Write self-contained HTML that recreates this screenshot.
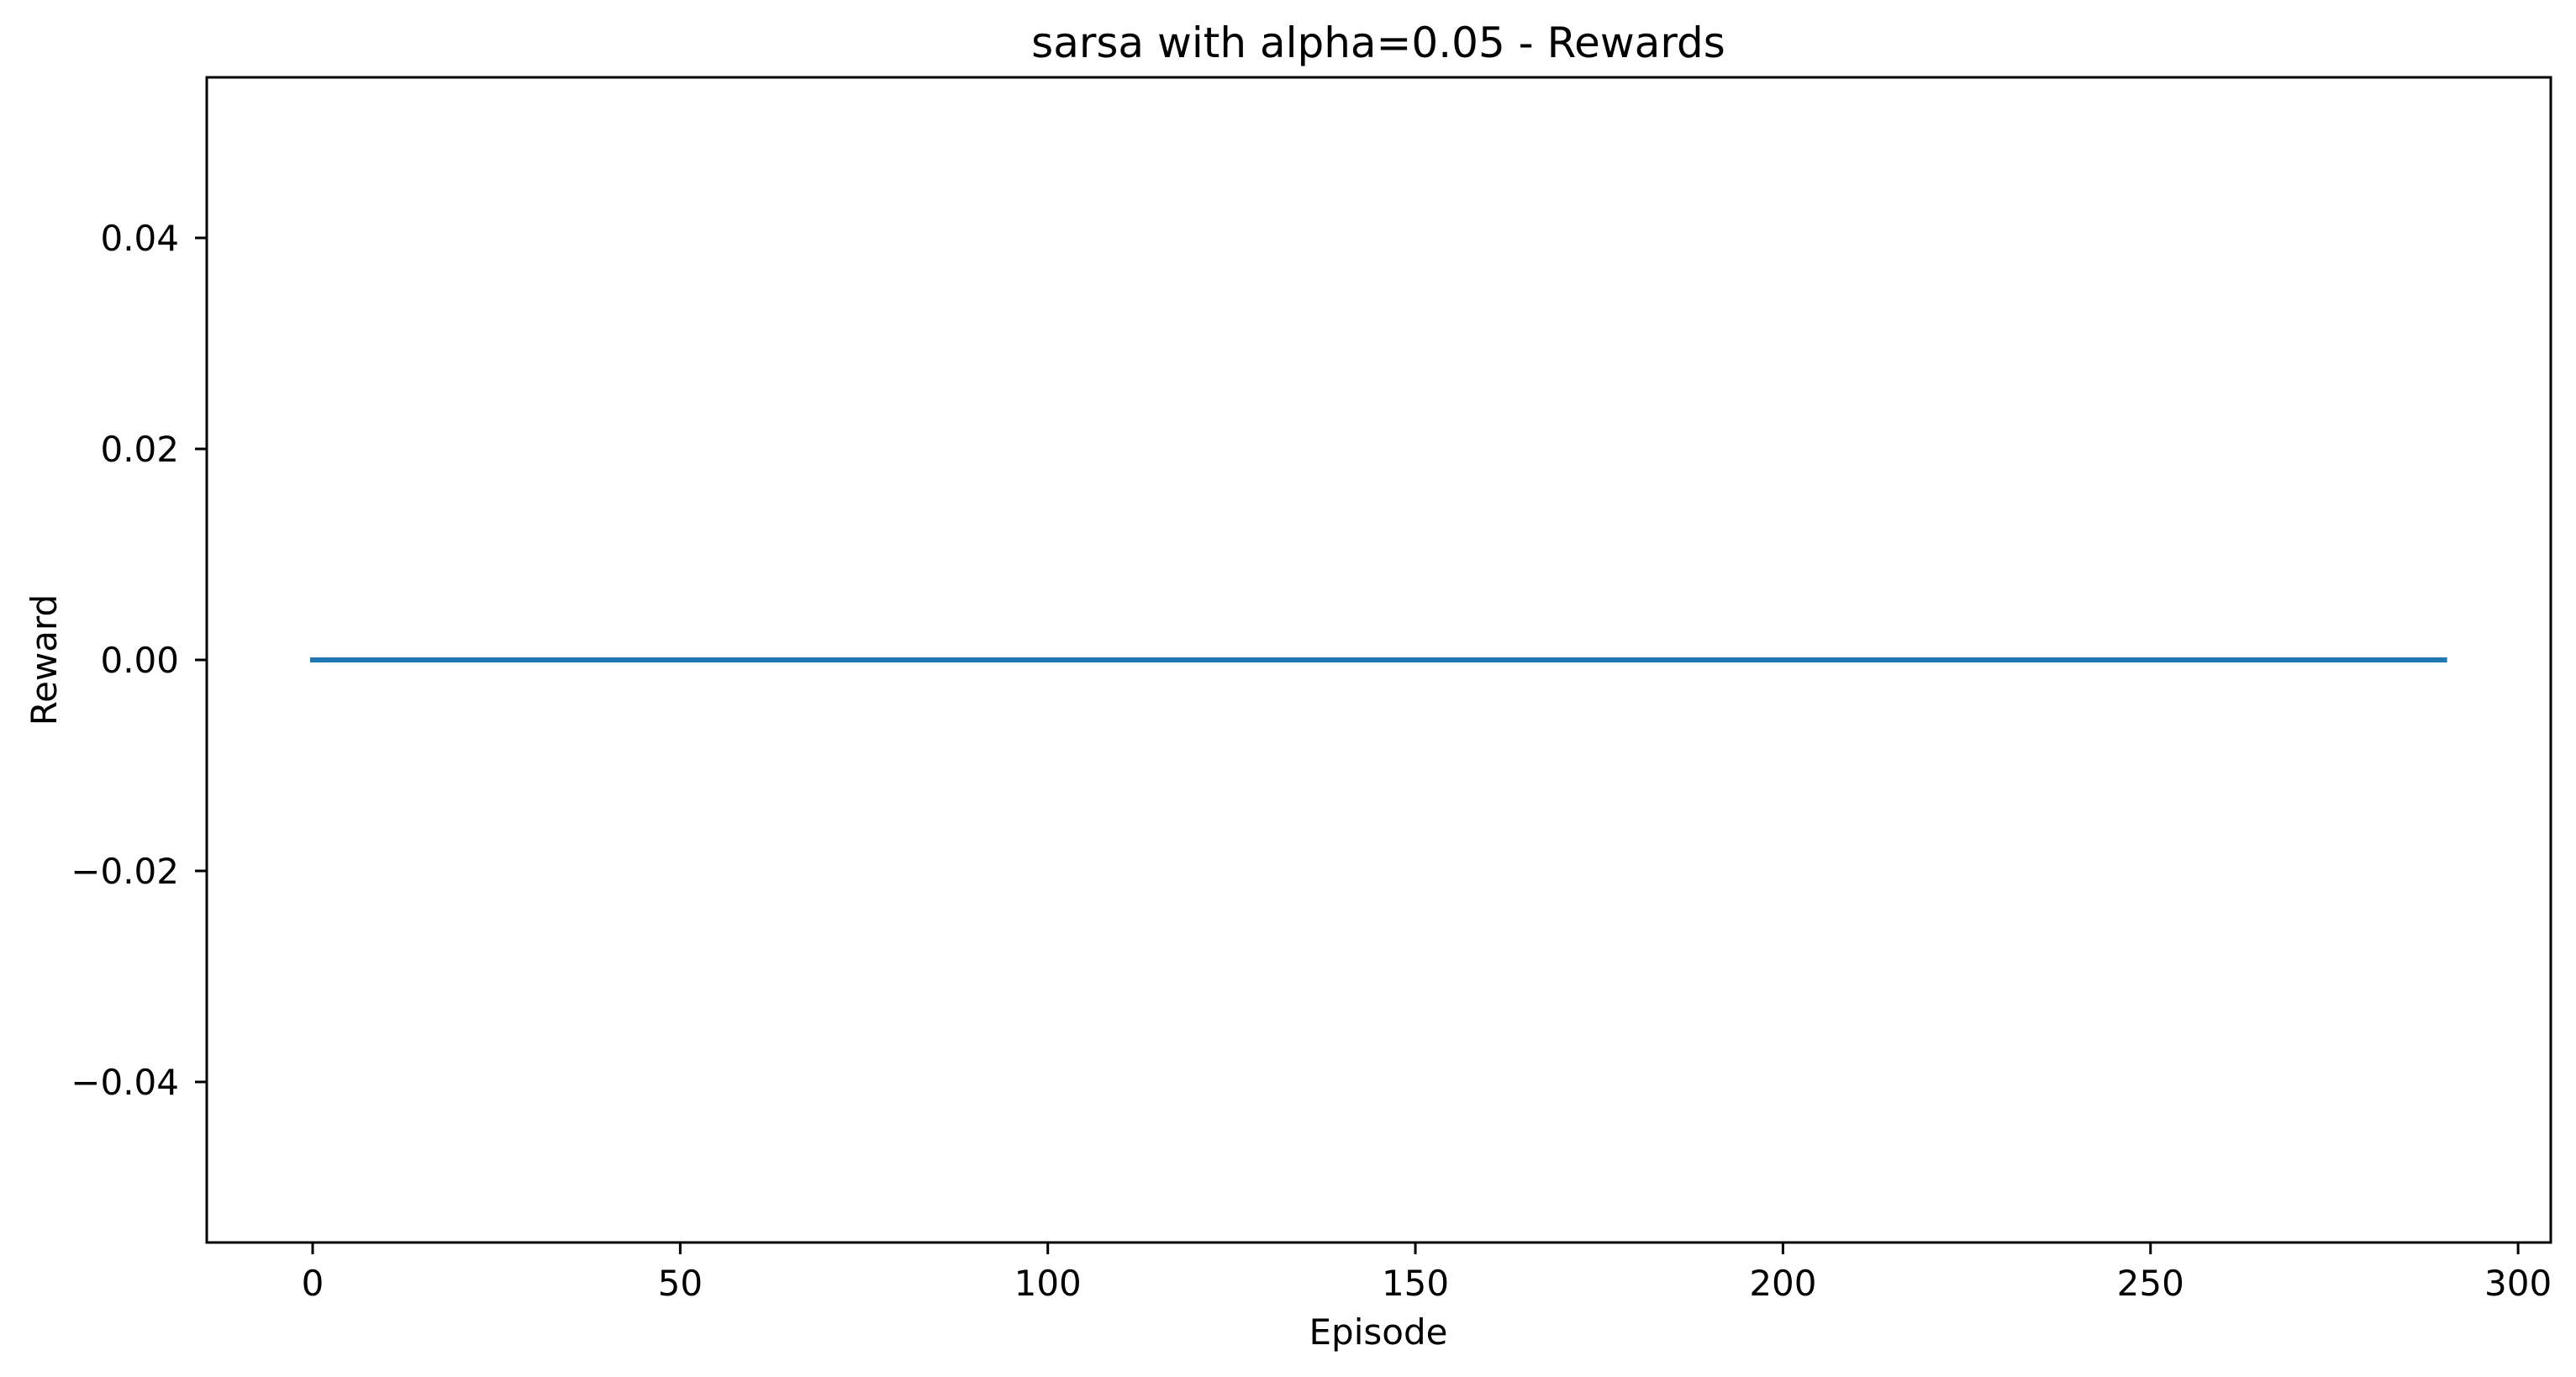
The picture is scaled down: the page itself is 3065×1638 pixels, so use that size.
<!DOCTYPE html>
<html><head><meta charset="utf-8"><style>
html,body{margin:0;padding:0;background:#fff;}
svg{display:block;font-family:"DejaVu Sans","Liberation Sans",sans-serif;}
</style></head><body>
<svg id="chart" width="3065" height="1638" viewBox="0 0 3065 1638" xmlns="http://www.w3.org/2000/svg">
<rect width="3065" height="1638" fill="#fff"/>
<text x="1640" y="68" font-size="50" text-anchor="middle">sarsa with alpha=0.05 - Rewards</text>
<g id="xticks"></g><g id="yticks"></g>
<path id="series" fill="none" stroke="#1f77b4" stroke-width="6" stroke-linecap="square"/>
<rect x="246" y="92" width="2789" height="1386" fill="none" stroke="#000" stroke-width="3"/>
<text x="1640" y="1599" font-size="42" text-anchor="middle">Episode</text>
<text x="0" y="0" font-size="42" text-anchor="middle" transform="translate(67,785) rotate(-90)">Reward</text>
</svg>
<script>
const episodes = Array.from({length: 291}, (_, i) => i);
const rewards = new Array(291).fill(0);
const xTickValues = [0, 50, 100, 150, 200, 250, 300];
const xTickLabels = ["0", "50", "100", "150", "200", "250", "300"];
const yTickValues = [0.04, 0.02, 0, -0.02, -0.04];
const yTickLabels = ["0.04", "0.02", "0.00", "\u22120.02", "\u22120.04"];

const NS = "http://www.w3.org/2000/svg";
const L = 246, R = 3035, T = 92, B = 1478;
const xPx = 8.747;
function xs(v){ return 372 + v * xPx; }
function ys(v){ return 785 - v * 12550; }

const xg = document.getElementById('xticks');
xTickValues.forEach((v, i) => {
  const x = xs(v);
  const l = document.createElementNS(NS, 'line');
  l.setAttribute('x1', x); l.setAttribute('x2', x); l.setAttribute('y1', B); l.setAttribute('y2', B + 14);
  l.setAttribute('stroke', '#000'); l.setAttribute('stroke-width', '3');
  
  
  xg.appendChild(l);
  const t = document.createElementNS(NS, 'text');
  t.setAttribute('x', x); t.setAttribute('y', 1541); t.setAttribute('font-size', '42'); t.setAttribute('text-anchor', 'middle');
  t.textContent = xTickLabels[i];
  
  
  xg.appendChild(t);
});
const yg = document.getElementById('yticks');
yTickValues.forEach((v, i) => {
  const y = ys(v);
  const l = document.createElementNS(NS, 'line');
  l.setAttribute('x1', L - 14); l.setAttribute('x2', L); l.setAttribute('y1', y); l.setAttribute('y2', y);
  l.setAttribute('stroke', '#000'); l.setAttribute('stroke-width', '3');
  
  
  yg.appendChild(l);
  const t = document.createElementNS(NS, 'text');
  t.setAttribute('x', 213); t.setAttribute('y', y + 15); t.setAttribute('font-size', '42'); t.setAttribute('text-anchor', 'end');
  t.textContent = yTickLabels[i];
  
  
  yg.appendChild(t);
});
document.getElementById('series').setAttribute('d',
  episodes.map((e, i) => (i ? 'L' : 'M') + xs(e).toFixed(2) + ',' + ys(rewards[i]).toFixed(2)).join(' '));
</script>
</body></html>
